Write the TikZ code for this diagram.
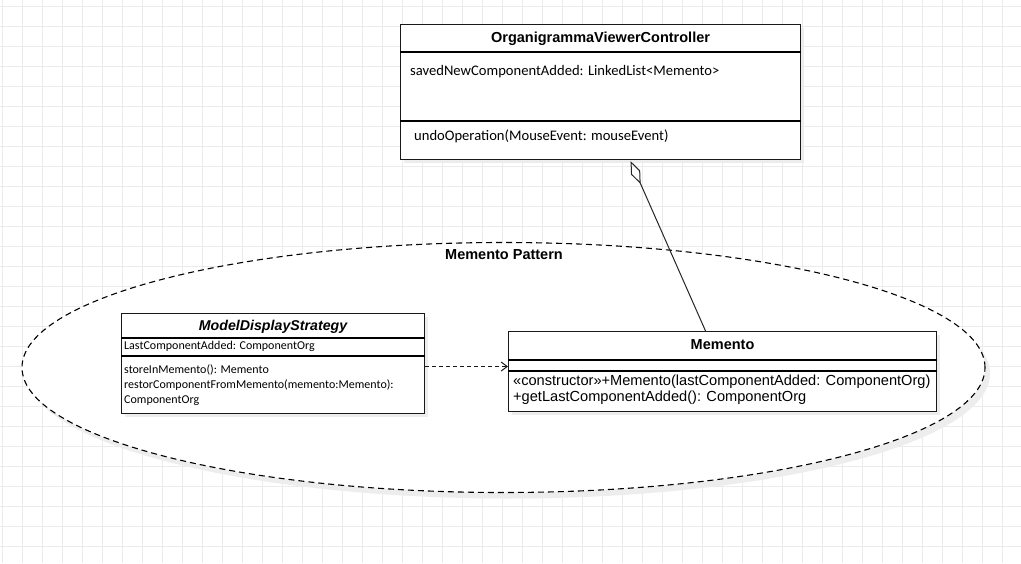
\documentclass[tikz,border=0pt]{standalone}
\usepackage{fontspec}
\setmainfont{Liberation Sans}
\newfontfamily\calfont{Carlito}
\usetikzlibrary{shapes.geometric,shadows,calc,arrows.meta}
\definecolor{gridgray}{HTML}{EBEBEB}
\definecolor{shadowgray}{HTML}{EDEDED}
\begin{document}
\begin{tikzpicture}[x=1pt,y=-1pt,
  umlbox/.style={draw=black!90, line width=1.1pt, fill=white, rectangle, inner sep=0pt,
    anchor=north west,
    drop shadow={shadow xshift=3pt, shadow yshift=-3pt, fill=shadowgray, opacity=1}},
  sep/.style={draw=black, line width=1.1pt},
  titletxt/.style={font=\fontsize{14.5}{16}\selectfont\bfseries, inner sep=0pt},
  attrtxt/.style={font=\calfont\fontsize{14.6}{17}\selectfont, anchor=west, inner sep=0pt},
  smalltxt/.style={font=\calfont\fontsize{12}{15}\selectfont, anchor=west, inner sep=0pt, align=left},
  opstxt/.style={font=\fontsize{14.6}{16}\selectfont, anchor=west, inner sep=0pt, align=left}]
  % canvas and grid
  \useasboundingbox (0,0) rectangle (1021,563);
  \fill[white] (0,0) rectangle (1021,563);
  \foreach \i in {0,...,51} \draw[gridgray, line width=0.8pt] (2.7+20*\i,0) -- (2.7+20*\i,563);
  \foreach \j in {0,...,28} \draw[gridgray, line width=0.8pt] (0,6.7+20*\j) -- (1021,6.7+20*\j);

  % package-like grouping ellipse
  \node[ellipse, draw=black, line width=1.1pt, dash pattern=on 6pt off 4pt, fill=white,
        minimum width=963pt, minimum height=250pt, inner sep=0pt,
        drop shadow={shadow xshift=5pt, shadow yshift=-6pt, fill=shadowgray, opacity=1}]
        (pattern) at (503.5,367.5) {};
  \node[font=\fontsize{14.5}{16}\selectfont\bfseries, inner sep=0pt] (patternlbl) at (504,255) {Memento Pattern};

  % controller class
  \node[umlbox, minimum width=400pt, minimum height=135pt] (ovc) at (400,24) {};
  \draw[sep] ($(ovc.north west)+(0,28)$) -- ($(ovc.north east)+(0,28)$);
  \draw[sep] ($(ovc.north west)+(0,97)$) -- ($(ovc.north east)+(0,97)$);
  \node[titletxt] (ovctitle) at ($(ovc.north)+(0,15)$) {OrganigrammaViewerController};
  \node[attrtxt] (ovcattr) at ($(ovc.north west)+(10,48)$) {savedNewComponentAdded: LinkedList<Memento>};
  \node[attrtxt] (ovcop) at ($(ovc.north west)+(14,112)$) {undoOperation(MouseEvent: mouseEvent)};

  % strategy class
  \node[umlbox, minimum width=303pt, minimum height=100pt] (mds) at (121,313) {};
  \draw[sep] ($(mds.north west)+(0,25)$) -- ($(mds.north east)+(0,25)$);
  \draw[sep] ($(mds.north west)+(0,43)$) -- ($(mds.north east)+(0,43)$);
  \node[font=\fontsize{14.2}{16}\selectfont\bfseries\itshape, inner sep=0pt] (mdstitle) at ($(mds.north)+(0,14)$) {ModelDisplayStrategy};
  \node[smalltxt] (mdsattr) at ($(mds.north west)+(3,33)$) {LastComponentAdded: ComponentOrg};
  \node[smalltxt, anchor=north west] (mdsops) at ($(mds.north west)+(3,52)$)
    {storeInMemento(): Memento\\restorComponentFromMemento(memento:Memento):\\ComponentOrg};

  % memento class
  \node[umlbox, minimum width=428pt, minimum height=80pt] (mem) at (508,331) {};
  \draw[sep] ($(mem.north west)+(0,29)$) -- ($(mem.north east)+(0,29)$);
  \draw[sep] ($(mem.north west)+(0,40)$) -- ($(mem.north east)+(0,40)$);
  \node[titletxt] (memtitle) at ($(mem.north)+(0,14)$) {Memento};
  \node[opstxt] (memop1) at ($(mem.north west)+(5,51)$) {«constructor»+Memento(lastComponentAdded: ComponentOrg)};
  \node[opstxt] (memop2) at ($(mem.north west)+(5,67)$) {+getLastComponentAdded(): ComponentOrg};

  % dependency
  \draw[black!90, line width=1pt, dash pattern=on 4pt off 3pt, -{Straight Barb[length=6pt,width=9pt]}]
    ($(mds.east)+(0,3)$) -- ($(mem.west)+(0,-5)$);

  % aggregation
  \draw[black!85, line width=1pt, {Diamond[open,length=25pt,width=10pt]}-]
    ($(ovc.south)+(30,1)$) -- ($(mem.north)+(-17,0)$);
\end{tikzpicture}
\end{document}
